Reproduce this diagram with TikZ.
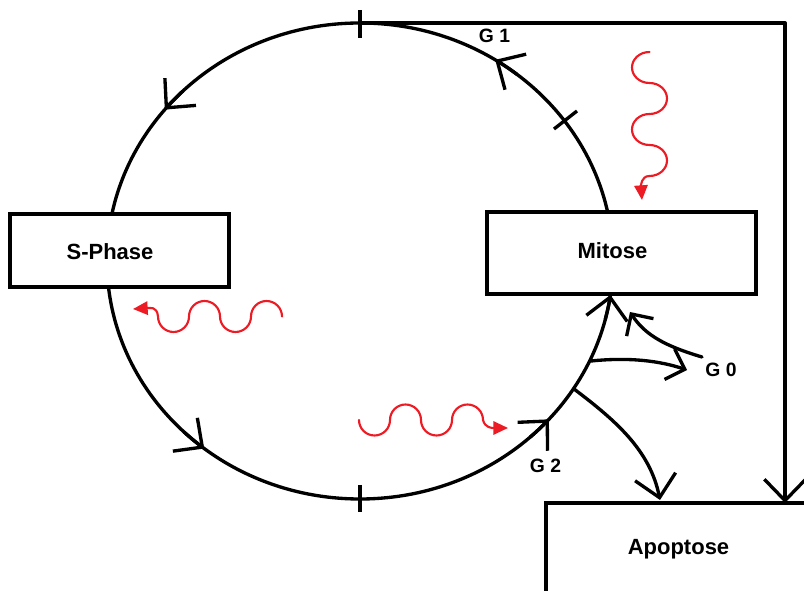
\documentclass[tikz,border=0pt]{standalone}
\usepackage{fontspec}
\setmainfont{Liberation Sans}
\usetikzlibrary{arrows.meta,calc}
\definecolor{wavered}{RGB}{237,28,36}
\begin{document}
\begin{tikzpicture}[x=0.75pt,y=-0.75pt,
  line/.style={line width=2.5pt, line cap=round, line join=round},
  barb/.style={line, -{Straight Barb[length=16pt,width=31pt]}},
  smallbarb/.style={line, -{Straight Barb[length=12pt,width=24pt]}},
  box/.style={draw, line width=2.5pt, fill=white, rectangle, inner sep=0pt},
  boxtext/.style={font=\fontsize{16.5}{18}\selectfont\bfseries, anchor=base},
  gtext/.style={font=\fontsize{14.5}{16}\selectfont\bfseries, anchor=base},
  wave/.style={wavered, line width=1.6pt, line cap=round, -{Triangle[length=11pt,width=10pt]}},
]
\clip (0,0) rectangle (804,591);

% the cycle
\coordinate (cyc) at (360,261);
\draw[line] (cyc) ellipse [x radius=253, y radius=238];

% phase boundaries on the cycle
\draw[line, line cap=butt] (360,10) -- (360,38);
\draw[line, line cap=butt] (554,129) -- (577,111);
\draw[line, line cap=butt] (360,485) -- (360,512);

% boxes
\node[box, minimum width=164.25pt, minimum height=54.75pt] (sphase) at (119.5,250.5) {};
\node[box, minimum width=201.75pt, minimum height=61.5pt] (mitose) at (621.5,253) {};
\node[box, minimum width=198pt, minimum height=69pt] (apoptose) at (678,549) {};
\node[boxtext] (sphaselabel) at (110,260) {S-Phase};
\node[boxtext] (mitoselabel) at (612.5,259) {Mitose};
\node[boxtext] (apoptoselabel) at (678.5,555) {Apoptose};

% direction marks along the cycle
\foreach \t in {-57.7,219.5,128,41.7,8.2}
  \draw[barb] ($(cyc)+({253*cos(\t+6)},{238*sin(\t+6)})$)
    arc[start angle=\t+6, end angle=\t, x radius=253, y radius=238];

% phase labels
\node[gtext] (g1) at (494.5,43) {G 1};
\node[gtext] (g0) at (721,377) {G 0};
\node[gtext] (g2) at (545.5,473) {G 2};

% exits from the cycle
\coordinate (top) at (360,23);
\coordinate (drop) at (785,503);
\coordinate (exitg0) at (591,361);
\coordinate (exitapo) at (574,389);
\coordinate (g0in) at (687,370);
\coordinate (g0out) at (702,357);
\coordinate (mitin) at (630,312);
\coordinate (apoin) at (660,500);

\draw[barb] (top) -| (drop);
\draw[smallbarb] (exitg0) .. controls (630,357) and (660,361) .. (g0in);
\draw[barb] (exitapo) .. controls (615,420) and (650,450) .. (apoin);
\draw[smallbarb] (g0out) .. controls (665,346) and (645,335) .. (mitin);

% red wavy arrows, built from half loops
\draw[wave] (649.5,52)
  arc[start angle=-90, end angle=-270, x radius=17.5, y radius=15.5]
  arc[start angle=-90, end angle=90, x radius=17.5, y radius=15.5]
  arc[start angle=-90, end angle=-270, x radius=17.5, y radius=15.5]
  arc[start angle=-90, end angle=90, x radius=17.5, y radius=15.5]
  .. controls (641,176) and (641,186) .. (642,200);
\draw[wave] (282,316.5)
  arc[start angle=0, end angle=-180, radius=15.5]
  arc[start angle=0, end angle=180, radius=15.5]
  arc[start angle=0, end angle=-180, radius=15.5]
  arc[start angle=0, end angle=180, radius=15.5]
  .. controls (157,306) and (150,308) .. (133,309);
\draw[wave] (359,420)
  arc[start angle=180, end angle=0, radius=15.5]
  arc[start angle=180, end angle=360, radius=15.5]
  arc[start angle=180, end angle=0, radius=15.5]
  arc[start angle=180, end angle=360, radius=15.5]
  .. controls (485,428) and (492,428) .. (508,428);
\end{tikzpicture}
\end{document}
